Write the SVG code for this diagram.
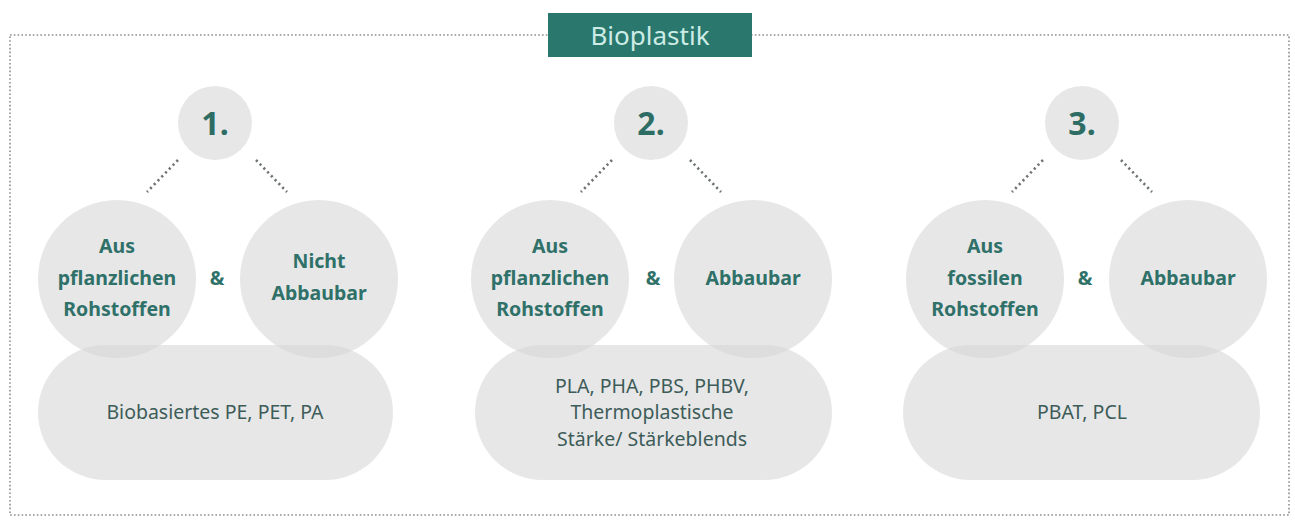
<svg xmlns="http://www.w3.org/2000/svg" width="1295" height="520" viewBox="0 0 1295 520">
<style>
.frame{fill:none;stroke:#8a8f8e;stroke-width:1.6;stroke-dasharray:1.6 2.2}
.conn{fill:none;stroke:#6f7473;stroke-width:2.6;stroke-dasharray:2.2 3.2}
.shape{fill:#d6d6d8;fill-opacity:0.58}
.num{font-family:"Noto Sans","DejaVu Sans",sans-serif;font-weight:bold;font-size:32px;fill:#2e6d64;text-anchor:middle}
.lbl{font-family:"Noto Sans","DejaVu Sans",sans-serif;font-weight:bold;font-size:19.5px;fill:#2f7168;text-anchor:middle}
.ex{font-family:"Noto Sans","DejaVu Sans",sans-serif;font-size:19.5px;fill:#3d5c58;text-anchor:middle}
.title{font-family:"Noto Sans","DejaVu Sans",sans-serif;font-size:26px;fill:#cdece6;text-anchor:middle}
</style>
<rect width="1295" height="520" fill="#ffffff"/>
<rect class="frame" x="10" y="35" width="1279" height="480"/>
<g id="title">
<rect x="548" y="13" width="204" height="44" fill="#2a786d"/>
<text class="title" x="650" y="45">Bioplastik</text>
</g>
<g id="connectors">
<line class="conn" x1="178" y1="160" x2="147" y2="192"/>
<line class="conn" x1="256" y1="160" x2="287" y2="192"/>
<line class="conn" x1="612" y1="160" x2="581" y2="192"/>
<line class="conn" x1="690" y1="160" x2="721" y2="192"/>
<line class="conn" x1="1043" y1="160" x2="1012" y2="192"/>
<line class="conn" x1="1121" y1="160" x2="1152" y2="192"/>
</g>
<g id="group1">
<g id="num1"><circle class="shape" cx="215" cy="123" r="37"/><text class="num" x="215" y="135">1.</text></g>
<g id="pill1"><rect class="shape" x="38" y="345" width="355" height="135" rx="67.5"/><text class="ex" x="215" y="419">Biobasiertes PE, PET, PA</text></g>
<g id="c1a"><circle class="shape" cx="117" cy="279" r="79"/><text class="lbl"><tspan x="117" y="253">Aus</tspan><tspan x="117" y="285">pflanzlichen</tspan><tspan x="117" y="316">Rohstoffen</tspan></text></g>
<g id="c1b"><circle class="shape" cx="319" cy="279" r="79"/><text class="lbl"><tspan x="319" y="268">Nicht</tspan><tspan x="319" y="300">Abbaubar</tspan></text></g>
<text class="lbl" x="217" y="285">&amp;</text>
</g>
<g id="group2">
<g id="num2"><circle class="shape" cx="651" cy="123" r="37"/><text class="num" x="651" y="135">2.</text></g>
<g id="pill2"><rect class="shape" x="475" y="345" width="357" height="135" rx="67.5"/><text class="ex"><tspan x="652" y="393">PLA, PHA, PBS, PHBV,</tspan><tspan x="652" y="419">Thermoplastische</tspan><tspan x="652" y="446">Stärke/ Stärkeblends</tspan></text></g>
<g id="c2a"><circle class="shape" cx="550" cy="279" r="79"/><text class="lbl"><tspan x="550" y="253">Aus</tspan><tspan x="550" y="285">pflanzlichen</tspan><tspan x="550" y="316">Rohstoffen</tspan></text></g>
<g id="c2b"><circle class="shape" cx="753" cy="279" r="79"/><text class="lbl" x="753" y="285">Abbaubar</text></g>
<text class="lbl" x="653" y="285">&amp;</text>
</g>
<g id="group3">
<g id="num3"><circle class="shape" cx="1082" cy="123" r="37"/><text class="num" x="1082" y="135">3.</text></g>
<g id="pill3"><rect class="shape" x="903" y="345" width="357" height="135" rx="67.5"/><text class="ex" x="1082" y="419">PBAT, PCL</text></g>
<g id="c3a"><circle class="shape" cx="985" cy="279" r="79"/><text class="lbl"><tspan x="985" y="253">Aus</tspan><tspan x="985" y="285">fossilen</tspan><tspan x="985" y="316">Rohstoffen</tspan></text></g>
<g id="c3b"><circle class="shape" cx="1188" cy="279" r="79"/><text class="lbl" x="1188" y="285">Abbaubar</text></g>
<text class="lbl" x="1085" y="285">&amp;</text>
</g>
</svg>
